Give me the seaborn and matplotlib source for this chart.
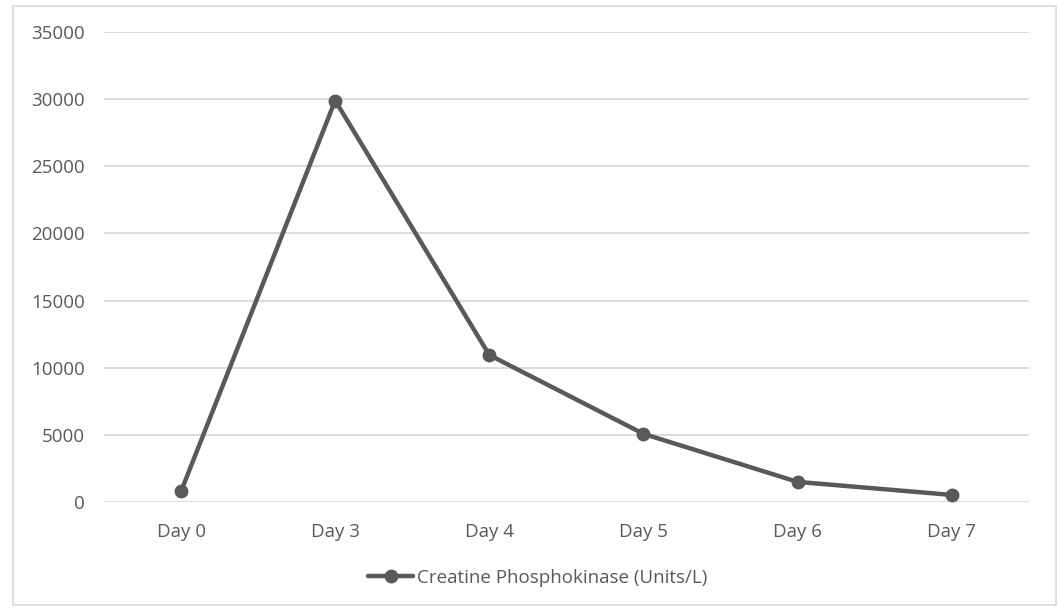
import matplotlib
matplotlib.use("Agg")
import seaborn as sns
import numpy as np
import pandas as pd
from matplotlib import pyplot as plt
from matplotlib.patches import Rectangle

days = ["Day 0", "Day 3", "Day 4", "Day 5", "Day 6", "Day 7"]
cpk = [800, 29900, 10950, 5080, 1500, 530]
y_ticks = [0, 5000, 10000, 15000, 20000, 25000, 30000, 35000]
series_name = "Creatine Phosphokinase (Units/L)"

sns.set_style("white")
plt.rcParams['font.family'] = ['Open Sans', 'DejaVu Sans']

grey = "#595959"
grid_grey = "#d9d9d9"

fig = plt.figure(figsize=(10.58, 6.08), dpi=100)
ax = fig.add_axes([0.0983, 0.1743, 0.874, 0.773])

df = pd.DataFrame({"day": days, "cpk": cpk})
sns.lineplot(data=df, x="day", y="cpk", ax=ax, color=grey, linewidth=3.2,
             marker="o", markersize=10, markeredgewidth=0, label=series_name,
             sort=False)

ax.set_xlim(-0.5, len(days) - 0.5)
ax.set_ylim(0, 35000)
ax.set_yticks(y_ticks)
ax.set_yticklabels([str(v) for v in y_ticks])
ax.yaxis.grid(True, color=grid_grey, linewidth=1.3)
ax.set_axisbelow(True)
for s in ax.spines.values():
    s.set_visible(False)
ax.tick_params(axis="both", length=0, labelsize=13.5, labelcolor=grey)
ax.tick_params(axis="y", pad=14)
ax.tick_params(axis="x", pad=15)
ax.set_xlabel("")
ax.set_ylabel("")

handles, labels = ax.get_legend_handles_labels()
ax.get_legend().remove()
fig.legend(handles, labels, loc="center", bbox_to_anchor=(538 / 1058, 1 - 578 / 608),
           frameon=False, fontsize=13.5, labelcolor=grey, handlelength=2.4,
           handletextpad=0.2)

fig.patches.append(Rectangle((13 / 1058, 1 - 605 / 608), 1043 / 1058, 599 / 608,
                             transform=fig.transFigure, fill=False,
                             edgecolor=grid_grey, linewidth=1.2))

fig.savefig("out.png", dpi=100)
